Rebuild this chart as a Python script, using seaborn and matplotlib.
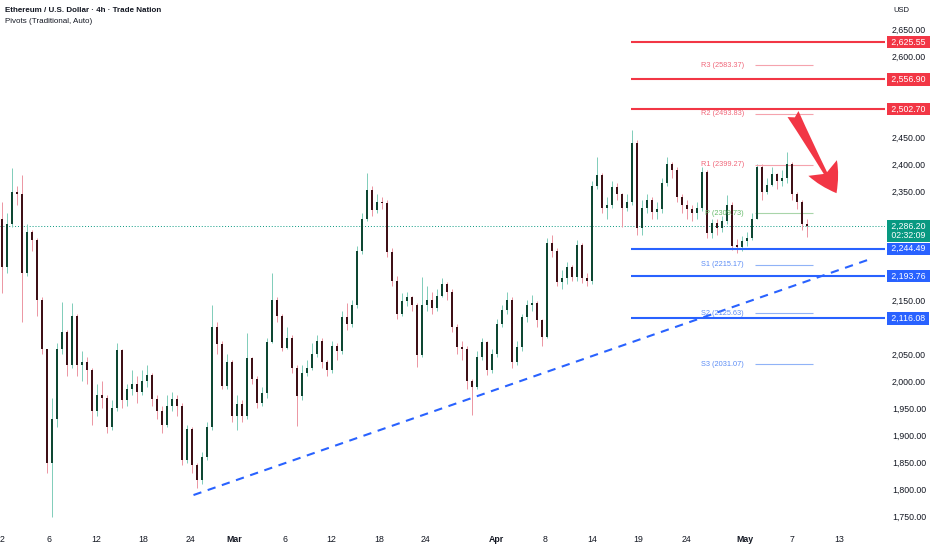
import numpy as np
import pandas as pd
import matplotlib
matplotlib.use('Agg')
import matplotlib.pyplot as plt
import matplotlib.transforms as mtransforms
from matplotlib.patches import FancyArrowPatch
from matplotlib.ticker import StrMethodFormatter
import seaborn as sns

# ---- data (one bar ~ 5 px of the original) ----
first_open = 2300
closes = [
    2210, 2290, 2350, 2345, 2200, 2275, 2260, 2150, 2060, 1850,
    1930, 2060, 2090, 2030, 2120, 2030, 2035, 2020, 1945, 1975,
    1970, 1915, 1950, 2058, 1965, 1985, 1995, 1980, 2000, 2012,
    1968, 1945, 1920, 1955, 1968, 1955, 1855, 1912, 1845, 1818,
    1860, 1915, 2100, 2068, 1992, 2035, 1935, 1958, 1935, 2043,
    2005, 1960, 1978, 2072, 2150, 2120, 2062, 2080, 2025, 1972,
    2015, 2025, 2050, 2075, 2035, 2020, 2065, 2055, 2118, 2105,
    2140, 2240, 2300, 2352, 2316, 2330, 2329, 2238, 2185, 2125,
    2148, 2155, 2140, 2048, 2140, 2150, 2135, 2158, 2180, 2165,
    2100, 2063, 2060, 2000, 1990, 2045, 2072, 2020, 2050, 2105,
    2132, 2150, 2035, 2063, 2118, 2140, 2144, 2113, 2082, 2255,
    2240, 2183, 2190, 2210, 2192, 2252, 2190, 2185, 2360, 2380,
    2320, 2325, 2358, 2345, 2320, 2330, 2440, 2282, 2320, 2334,
    2312, 2318, 2366, 2400, 2390, 2340, 2325, 2318, 2310, 2320,
    2386, 2273, 2292, 2283, 2295, 2325, 2250, 2248, 2258, 2265,
    2300, 2395, 2350, 2362, 2382, 2370, 2375, 2400, 2345, 2330,
    2290, 2286.2]
highs = [
    2331, 2310, 2393, 2360, 2380, 2290, 2280, 2265, 2155, 2060,
    1970, 2070, 2146, 2095, 2144, 2125, 2055, 2045, 2025, 1995,
    2000, 1975, 1965, 2070, 2060, 1995, 2020, 2010, 2020, 2030,
    2015, 1975, 1955, 1975, 1980, 1975, 1960, 1920, 1915, 1850,
    1870, 1925, 2141, 2110, 2075, 2050, 2040, 1975, 1965, 2089,
    2045, 2010, 1990, 2080, 2200, 2155, 2125, 2100, 2085, 2030,
    2030, 2040, 2070, 2085, 2080, 2040, 2075, 2070, 2130, 2145,
    2150, 2250, 2310, 2384, 2360, 2345, 2340, 2335, 2245, 2195,
    2163, 2165, 2158, 2145, 2192, 2175, 2165, 2170, 2190, 2183,
    2170, 2105, 2075, 2065, 2005, 2055, 2080, 2075, 2060, 2115,
    2140, 2164, 2155, 2075, 2125, 2150, 2160, 2148, 2115, 2265,
    2270, 2245, 2205, 2220, 2215, 2260, 2255, 2200, 2370, 2414,
    2385, 2340, 2370, 2365, 2348, 2345, 2463, 2445, 2335, 2345,
    2340, 2330, 2375, 2414, 2405, 2395, 2345, 2335, 2325, 2330,
    2395, 2390, 2300, 2300, 2305, 2344, 2330, 2262, 2268, 2275,
    2310, 2400, 2400, 2375, 2395, 2385, 2390, 2423, 2405, 2350,
    2335, 2300]
lows = [
    2163, 2200, 2285, 2325, 2110, 2195, 2240, 2120, 2050, 1830,
    1750, 1915, 2050, 2010, 2025, 2010, 2000, 1995, 1920, 1935,
    1950, 1905, 1910, 1945, 1950, 1955, 1975, 1960, 1975, 1990,
    1955, 1930, 1905, 1915, 1945, 1935, 1845, 1850, 1830, 1803,
    1810, 1855, 1910, 2050, 1985, 1985, 1925, 1910, 1925, 1930,
    1995, 1950, 1955, 1970, 2070, 2110, 2055, 2060, 2015, 1918,
    1965, 2010, 2020, 2045, 2025, 2010, 2015, 2040, 2050, 2095,
    2100, 2135, 2235, 2295, 2305, 2310, 2318, 2230, 2175, 2115,
    2120, 2138, 2130, 2026, 2045, 2130, 2125, 2130, 2155, 2150,
    2090, 2050, 2040, 1985, 1938, 1985, 2040, 2012, 2015, 2045,
    2100, 2125, 2024, 2030, 2055, 2110, 2130, 2100, 2065, 2080,
    2230, 2175, 2170, 2180, 2185, 2185, 2182, 2175, 2180, 2355,
    2310, 2300, 2320, 2335, 2285, 2315, 2325, 2270, 2270, 2310,
    2300, 2300, 2310, 2360, 2375, 2330, 2310, 2300, 2295, 2300,
    2315, 2265, 2265, 2270, 2275, 2290, 2242, 2236, 2240, 2250,
    2260, 2300, 2335, 2345, 2360, 2355, 2360, 2365, 2335, 2318,
    2280, 2266]

date_labels = ['2', '6', '12', '18', '24', 'Mar', '6', '12', '18', '24',
               'Apr', '8', '14', '19', '24', 'May', '7', '13']
date_ticks = [0.1, 9.46, 18.94, 28.26, 37.6, 46.46, 56.6, 65.94, 75.4, 84.6,
              98.94, 108.6, 118.06, 127.26, 136.8, 148.6, 157.94, 167.4]
# scale labels that the price boxes hide on the original
price_ticks = [1750, 1800, 1850, 1900, 1950, 2000, 2050, 2150,
               2350, 2400, 2450, 2600, 2650]

last_price = 2286.20
countdown = '02:32:09'
resistance_levels = [2625.55, 2556.90, 2502.70]
support_levels = [2244.49, 2193.76, 2116.08]
pivot_names = ['R3', 'R2', 'R1', 'P', 'S1', 'S2', 'S3']
pivot_values = [2583.37, 2493.83, 2399.27, 2309.73, 2215.17, 2125.63, 2031.07]
trend_bars = [38.3, 173.2]
trend_prices = [1790, 2224]
arrow_bars = [158.2, 166.9]
arrow_prices = [2493, 2347]

# ---- style ----
sns.set_theme(style='white')
plt.rcParams['font.family'] = ['Liberation Sans', 'DejaVu Sans']
TXT = '#131722'
RED = '#f23645'
BLUE = '#2962ff'
GREEN = '#089981'

df = pd.DataFrame({'close': closes, 'high': highs, 'low': lows})
df['open'] = [first_open] + closes[:-1]
df['bar'] = np.arange(len(df))
df['high'] = df[['high', 'open', 'close']].max(axis=1)
df['low'] = df[['low', 'open', 'close']].min(axis=1)
df['up'] = df['close'] >= df['open']

fig = plt.figure(figsize=(9.32, 5.5), dpi=100)
fig.patch.set_facecolor('white')
ax = fig.add_axes([0, 1 - 528 / 550, 885 / 932, 528 / 550])
ax.set_facecolor('white')
x_max = 176.6
ax.set_xlim(-0.4, x_max)
ax.set_ylim(1729.2, 2703.5)

# candles
wick_c = np.where(df['up'], '#80cdb9', '#ec95a2')
body_c = np.where(df['up'], '#0e4733', '#3f1016')
ax.vlines(df['bar'], df['low'], df['high'], colors=wick_c, lw=0.7, zorder=2)
body_lo = df[['open', 'close']].min(axis=1)
body_h = (df['close'] - df['open']).abs().clip(lower=2.5)
ax.bar(df['bar'], body_h, bottom=body_lo, width=0.5, color=body_c, lw=0, zorder=3)

# current price line
ax.axhline(last_price, color=GREEN, lw=0.7, ls=(0, (1, 2)), zorder=1)

# key levels
level_start = 125.8
ax.hlines(resistance_levels, level_start, x_max, colors=RED, lw=1.5, zorder=4)
ax.hlines(support_levels, level_start, x_max, colors=BLUE, lw=1.5, zorder=4)

# pivots
piv_line = {'R': '#f5a3ad', 'P': '#a8d5a9', 'S': '#90b3f7'}
piv_text = {'R': '#f0677a', 'P': '#66bb6a', 'S': '#5b8cf5'}
for name, val in zip(pivot_names, pivot_values):
    k = name[0]
    ax.hlines(val, 150.6, 162.2, colors=piv_line[k], lw=0.8, zorder=2)
    ax.text(148.4, val, f'{name} ({val:.2f})', ha='right', va='center',
            fontsize=5.3, color=piv_text[k], zorder=5)

# rising trend line
sns.lineplot(x=trend_bars, y=trend_prices, ax=ax, color='#2962ff', lw=1.5,
             linestyle=(0, (4, 3.2)), zorder=4)

# red arrow
arrow = FancyArrowPatch((arrow_bars[0], arrow_prices[0]), (arrow_bars[1], arrow_prices[1]),
                        arrowstyle='fancy,head_length=1.15,head_width=1.3,tail_width=0.5',
                        mutation_scale=18, color=RED, lw=0, shrinkA=0, shrinkB=0, zorder=6)
ax.add_patch(arrow)

# axes
sns.despine(ax=ax, left=True, bottom=True, right=True, top=True)
ax.grid(False)
ax.yaxis.tick_right()
ax.set_yticks(price_ticks)
ax.yaxis.set_major_formatter(StrMethodFormatter('{x:,.2f}'))
ax.tick_params(axis='y', length=0, pad=5, labelsize=6.3, colors=TXT)
ax.set_xticks(date_ticks, date_labels)
ax.tick_params(axis='x', length=0, pad=5, labelsize=6.3, colors=TXT)
for lab in ax.get_xticklabels():
    if lab.get_text() in ('Mar', 'Apr', 'May'):
        lab.set_fontweight('bold')

# price boxes on the right scale
trans = mtransforms.blended_transform_factory(ax.transAxes, ax.transData)
bx = 1 + 4 / 885
for lv in resistance_levels:
    ax.text(bx, lv, f' {lv:,.2f} ', transform=trans, ha='left', va='center',
            fontsize=6.3, color='white', clip_on=False, zorder=7,
            bbox=dict(boxstyle='square,pad=0.2', fc=RED, ec='none'))
for lv in support_levels:
    ax.text(bx, lv, f' {lv:,.2f} ', transform=trans, ha='left', va='center',
            fontsize=6.3, color='white', clip_on=False, zorder=7,
            bbox=dict(boxstyle='square,pad=0.2', fc=BLUE, ec='none'))
ax.annotate(f' {last_price:,.2f} \n {countdown} ', xy=(bx, last_price), xycoords=trans,
            xytext=(0, -3.2), textcoords='offset points', ha='left', va='center',
            fontsize=6.3, color='white', linespacing=1.05, annotation_clip=False, zorder=7,
            bbox=dict(boxstyle='square,pad=0.2', fc=GREEN, ec='none'))

# header texts
fig.text(5 / 932, 1 - 10.5 / 550, 'Ethereum / U.S. Dollar · 4h · Trade Nation',
         fontsize=5.8, fontweight='bold', color=TXT, va='center', ha='left')
fig.text(5 / 932, 1 - 21.5 / 550, 'Pivots (Traditional, Auto)',
         fontsize=5.8, color=TXT, va='center', ha='left')
fig.text(893 / 932, 1 - 11 / 550, 'USD', fontsize=5.5, color=TXT, va='center', ha='left')

fig.savefig('out.png', dpi=100, facecolor='white')
